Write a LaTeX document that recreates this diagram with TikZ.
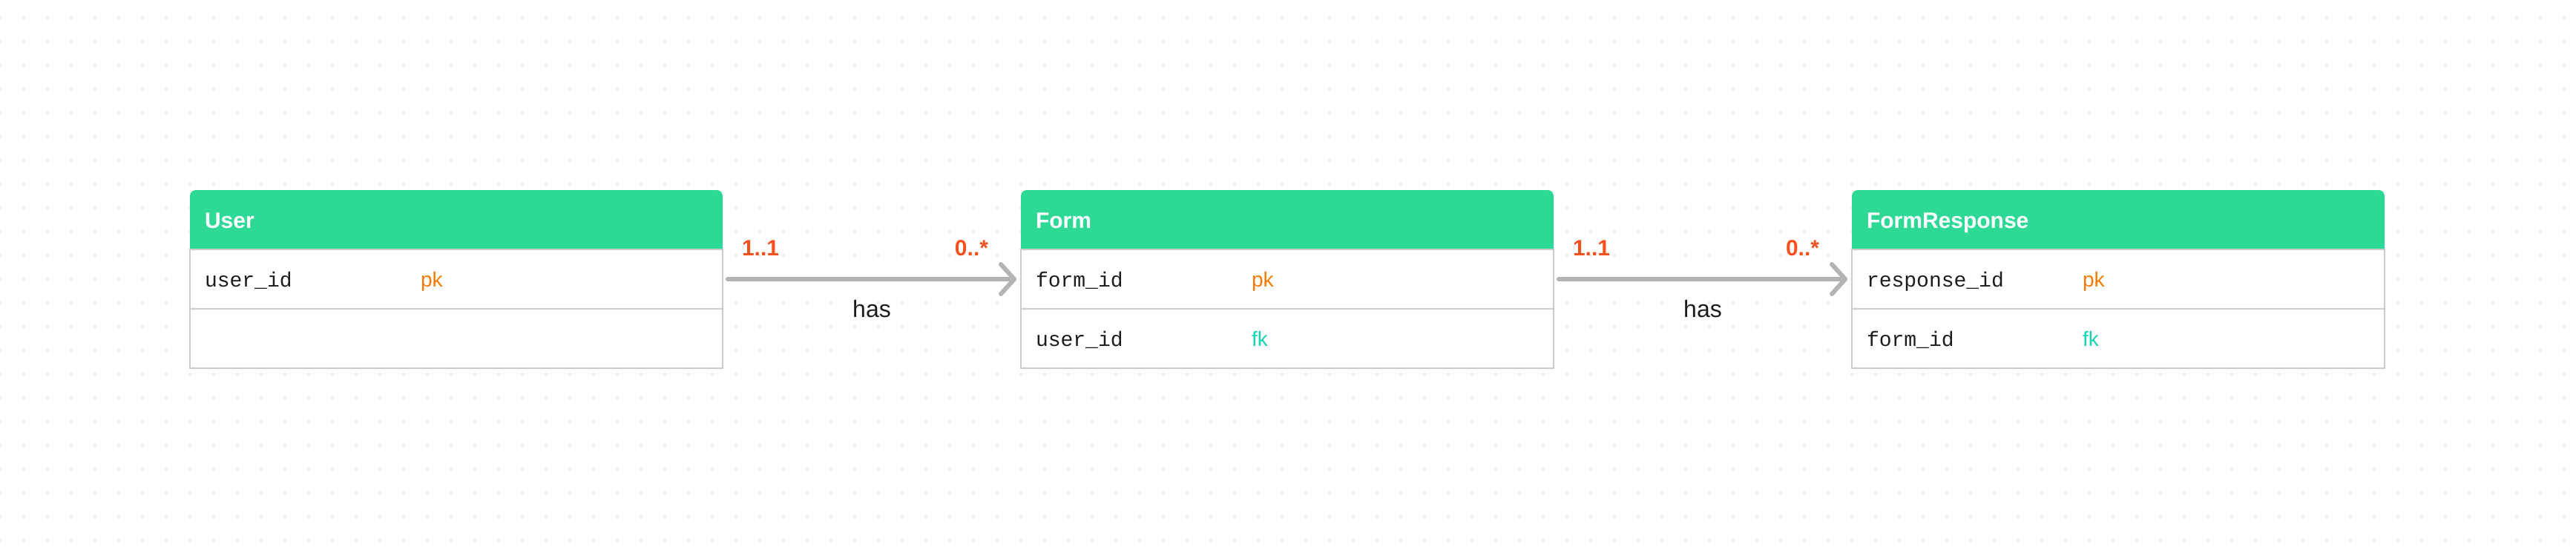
\documentclass[tikz,border=0pt]{standalone}
\usepackage{fontspec}
\setmainfont{Liberation Sans}
\setmonofont{Liberation Mono}
\usetikzlibrary{positioning, arrows.meta, backgrounds}

\definecolor{headgreen}{HTML}{2ED996}
\definecolor{pkorange}{HTML}{F57C00}
\definecolor{fkteal}{HTML}{19D3B4}
\definecolor{cardred}{HTML}{F4511E}
\definecolor{linegray}{HTML}{B3B3B3}
\definecolor{rowgray}{HTML}{CCCCCC}
\definecolor{dotgray}{HTML}{E0E0E0}
\definecolor{ink}{HTML}{1C1C1C}

\newcommand{\field}[3]{\makebox[145.5pt][l]{\ttfamily #1}\textcolor{#3}{#2}}

\begin{document}
\begin{tikzpicture}[
	> = {Straight Barb[length=9pt, width=20pt, round]},
	tblhead/.style = {fill = headgreen, rounded corners = 4pt, text = white,
		font = \fontsize{15}{18}\selectfont\bfseries, text width = 339pt, align = left,
		text height = 11pt, text depth = 0pt,
		inner xsep = 10pt, inner ysep = 0pt, minimum height = 40pt, outer sep = 0pt},
	tblrow/.style = {draw = rowgray, line width = 0.9pt, fill = white, text = ink,
		font = \fontsize{14}{17}\selectfont, text width = 339pt, align = left,
		text height = 10pt, text depth = 0pt,
		inner xsep = 10pt, inner ysep = 0pt, minimum height = 40pt, outer sep = 0pt,
		below = 0pt of #1},
	relation/.style = {->, line width = 3pt, linegray, line cap = round,
		shorten < = 3.5pt, shorten > = 3pt},
	card/.style = {text = cardred, font = \fontsize{15}{18}\selectfont\bfseries,
		inner sep = 0pt, yshift = 16pt},
	verb/.style = {text = ink, font = \fontsize{16}{19}\selectfont,
		inner sep = 0pt, anchor = base, yshift = -25.5pt}
]

	\useasboundingbox (0, 0) rectangle (1736pt, -376pt);

	% Dotted canvas

	\begin{scope}[on background layer]
		\foreach \i in {0, ..., 108}
			\foreach \j in {0, ..., 22}
				\fill [dotgray] ({\i*16pt}, {-12pt-\j*16pt}) circle (0.8pt);
	\end{scope}

	% Tables

	\node [tblhead, anchor = north west] (u-head) at (128pt, -128pt) {User};
	\node [tblrow = u-head] (u-1) {\field{user\_id}{pk}{pkorange}};
	\node [tblrow = u-1] (u-2) {};

	\node [tblhead, anchor = north west] (f-head) at (688pt, -128pt) {Form};
	\node [tblrow = f-head] (f-1) {\field{form\_id}{pk}{pkorange}};
	\node [tblrow = f-1] (f-2) {\field{user\_id}{fk}{fkteal}};

	\node [tblhead, anchor = north west] (r-head) at (1248pt, -128pt) {FormResponse};
	\node [tblrow = r-head] (r-1) {\field{response\_id}{pk}{pkorange}};
	\node [tblrow = r-1] (r-2) {\field{form\_id}{fk}{fkteal}};

	% Square off the lower corners of the headers

	\begin{scope}[on background layer]
		\foreach \t in {u, f, r}
			\fill [headgreen] (\t-head.west) rectangle (\t-head.south east);
	\end{scope}

	% Relations

	\draw [relation] (u-1.east) --
		node [card, pos = 0, anchor = base west, xshift = 11.5pt] {1..1}
		node [card, pos = 1, anchor = base east, xshift = -20.5pt] {0..*}
		node [verb, pos = 0.5] {has} (f-1.west);

	\draw [relation] (f-1.east) --
		node [card, pos = 0, anchor = base west, xshift = 11.5pt] {1..1}
		node [card, pos = 1, anchor = base east, xshift = -20.5pt] {0..*}
		node [verb, pos = 0.5] {has} (r-1.west);

\end{tikzpicture}
\end{document}
